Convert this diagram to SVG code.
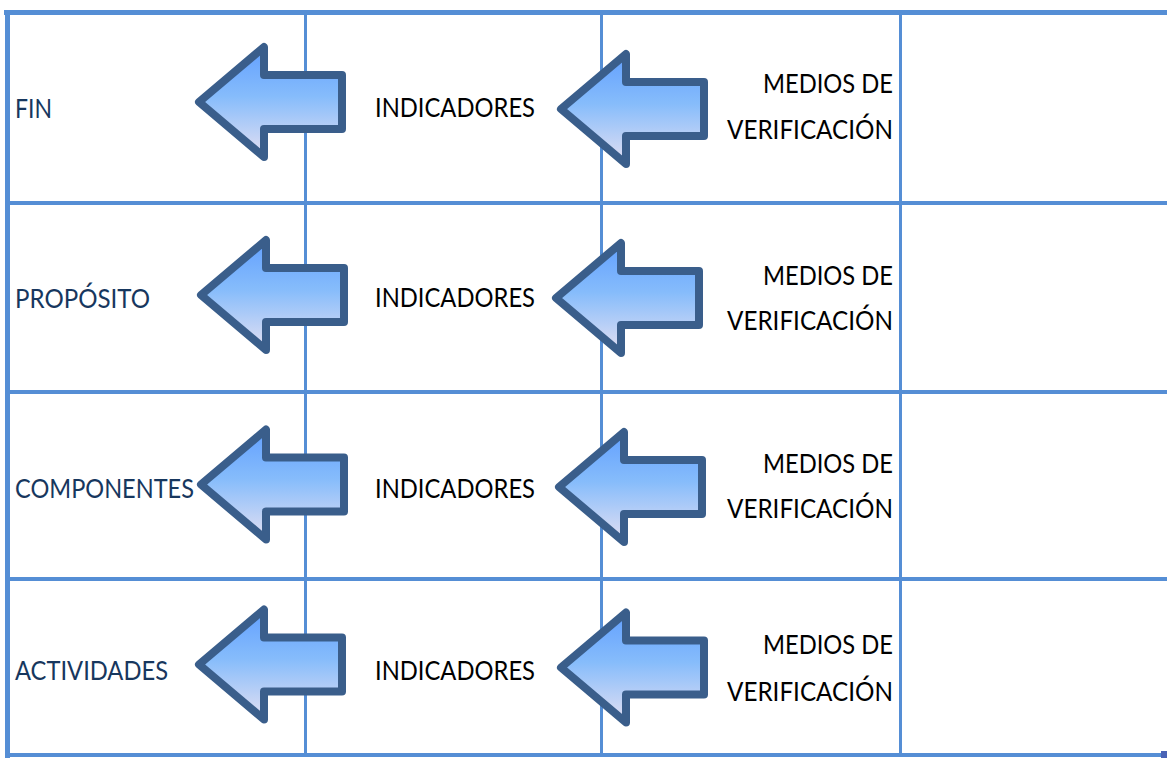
<svg xmlns="http://www.w3.org/2000/svg" xmlns:xlink="http://www.w3.org/1999/xlink" width="1167" height="758" viewBox="0 0 1167 758">
  <style>
    .grid { stroke: #558ed5; fill: none; }
    .lbl { font-family: Lato, "Liberation Sans", sans-serif; font-size: 27.5px; }
    .lvl { fill: #17375e; }
    .ind { fill: #000000; }
    .arrow { fill: url(#arrowFill); stroke: #3a5e8b; stroke-width: 8; stroke-linejoin: round; }
  </style>
  <defs>
    <linearGradient id="arrowFill" x1="0" y1="0" x2="0" y2="1">
      <stop offset="0" stop-color="#62a0ff"/>
      <stop offset="0.45" stop-color="#86bcfb"/>
      <stop offset="1" stop-color="#e4e0f2"/>
    </linearGradient>
    <!-- left-pointing block arrow, tip at the origin -->
    <path id="blockArrow" d="M0,0 L65,-55 L65,-27 L143,-27 L143,27 L65,27 L65,55 Z"/>
  </defs>

  <rect width="1167" height="758" fill="#ffffff"/>

  <!-- table rules -->
  <g id="table">
    <line class="grid" x1="4" y1="12.5" x2="1167" y2="12.5" stroke-width="5"/>
    <line class="grid" x1="7.5" y1="10" x2="7.5" y2="758" stroke-width="5"/>
    <line class="grid" x1="5" y1="203" x2="1167" y2="203" stroke-width="4"/>
    <line class="grid" x1="5" y1="392" x2="1167" y2="392" stroke-width="4"/>
    <line class="grid" x1="5" y1="579" x2="1167" y2="579" stroke-width="4"/>
    <line class="grid" x1="5" y1="755" x2="1167" y2="755" stroke-width="4"/>
    <line class="grid" x1="305.5" y1="12" x2="305.5" y2="756" stroke-width="3"/>
    <line class="grid" x1="601.5" y1="12" x2="601.5" y2="756" stroke-width="3"/>
    <line class="grid" x1="900.5" y1="12" x2="900.5" y2="756" stroke-width="3"/>
    <rect x="1161" y="751" width="6" height="7" fill="#4a63b5"/>
  </g>

  <!-- block arrows between the columns -->
  <g id="connectors">
    <use class="arrow" xlink:href="#blockArrow" transform="translate(199,102)"/>
    <use class="arrow" xlink:href="#blockArrow" transform="translate(561,109)"/>
    <use class="arrow" xlink:href="#blockArrow" transform="translate(201,295)"/>
    <use class="arrow" xlink:href="#blockArrow" transform="translate(556,298)"/>
    <use class="arrow" xlink:href="#blockArrow" transform="translate(201,484.5)"/>
    <use class="arrow" xlink:href="#blockArrow" transform="translate(559,487)"/>
    <use class="arrow" xlink:href="#blockArrow" transform="translate(199,664.5)"/>
    <use class="arrow" xlink:href="#blockArrow" transform="translate(561,667.5)"/>
  </g>

  <!-- row 1 -->
  <g id="fin"><text class="lbl lvl" x="15" y="118" textLength="37" lengthAdjust="spacingAndGlyphs">FIN</text></g>
  <g id="indicadores-fin"><text class="lbl ind" x="375" y="117" textLength="160" lengthAdjust="spacingAndGlyphs">INDICADORES</text></g>
  <g id="medios-fin">
    <text class="lbl ind" x="763" y="93" textLength="130" lengthAdjust="spacingAndGlyphs">MEDIOS DE</text>
    <text class="lbl ind" x="727" y="139" textLength="166" lengthAdjust="spacingAndGlyphs">VERIFICACIÓN</text>
  </g>

  <!-- row 2 -->
  <g id="proposito"><text class="lbl lvl" x="15" y="308" textLength="135" lengthAdjust="spacingAndGlyphs">PROPÓSITO</text></g>
  <g id="indicadores-proposito"><text class="lbl ind" x="375" y="307" textLength="160" lengthAdjust="spacingAndGlyphs">INDICADORES</text></g>
  <g id="medios-proposito">
    <text class="lbl ind" x="763" y="285" textLength="130" lengthAdjust="spacingAndGlyphs">MEDIOS DE</text>
    <text class="lbl ind" x="727" y="330" textLength="166" lengthAdjust="spacingAndGlyphs">VERIFICACIÓN</text>
  </g>

  <!-- row 3 -->
  <g id="componentes"><text class="lbl lvl" x="15" y="498" textLength="179" lengthAdjust="spacingAndGlyphs">COMPONENTES</text></g>
  <g id="indicadores-componentes"><text class="lbl ind" x="375" y="498" textLength="160" lengthAdjust="spacingAndGlyphs">INDICADORES</text></g>
  <g id="medios-componentes">
    <text class="lbl ind" x="763" y="473" textLength="130" lengthAdjust="spacingAndGlyphs">MEDIOS DE</text>
    <text class="lbl ind" x="727" y="518" textLength="166" lengthAdjust="spacingAndGlyphs">VERIFICACIÓN</text>
  </g>

  <!-- row 4 -->
  <g id="actividades"><text class="lbl lvl" x="15" y="680" textLength="153" lengthAdjust="spacingAndGlyphs">ACTIVIDADES</text></g>
  <g id="indicadores-actividades"><text class="lbl ind" x="375" y="680" textLength="160" lengthAdjust="spacingAndGlyphs">INDICADORES</text></g>
  <g id="medios-actividades">
    <text class="lbl ind" x="763" y="654" textLength="130" lengthAdjust="spacingAndGlyphs">MEDIOS DE</text>
    <text class="lbl ind" x="727" y="701" textLength="166" lengthAdjust="spacingAndGlyphs">VERIFICACIÓN</text>
  </g>
</svg>
